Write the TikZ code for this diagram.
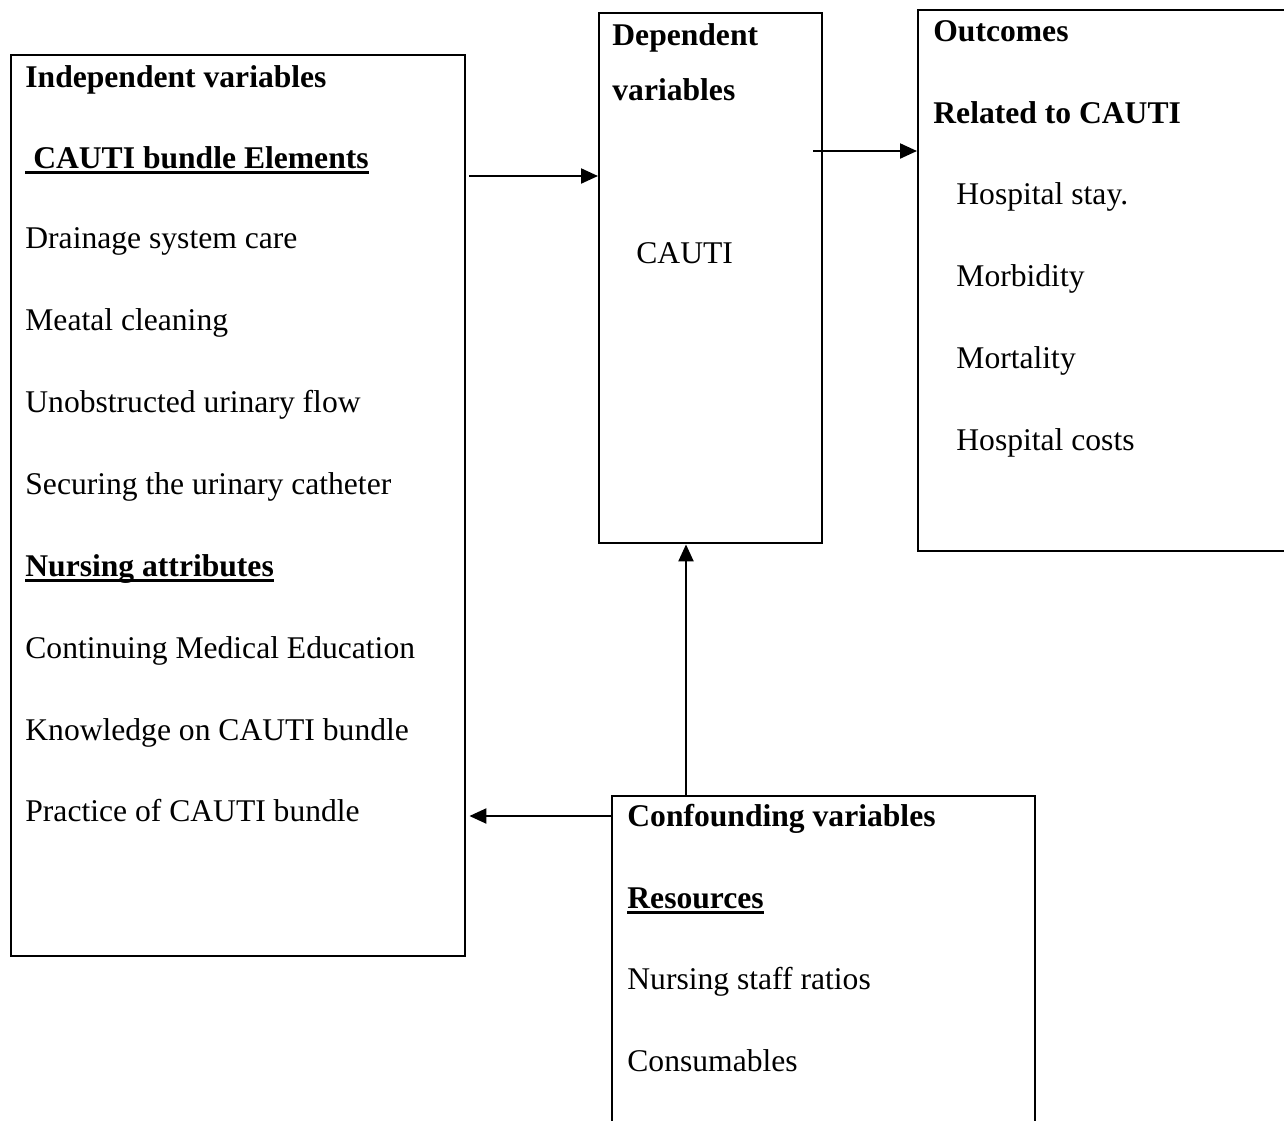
\documentclass[tikz,border=0pt]{standalone}
\usepackage{fontspec}
\setmainfont{Liberation Serif}
\usetikzlibrary{arrows.meta}
\newcommand\ulin[1]{\setbox0\hbox{#1}\rlap{\rule[-3.2pt]{\wd0}{1.5pt}}\box0}
\begin{document}
\begin{tikzpicture}[x=0.5pt,y=-0.5pt,
 box/.style={draw,line width=1.2pt,anchor=north west,inner sep=0},
 txt/.style={anchor=base west,inner sep=0,font=\fontsize{15.8}{19}\selectfont},
 arr/.style={line width=1.1pt,-{Triangle[length=8.5pt,width=7.5pt]}}]
\clip (0,0) rectangle (1284,1120);
\fill[white] (0,0) rectangle (1284,1120);
% boxes
\node[box,minimum width=227pt,minimum height=450.5pt] (indep) at (10,54) {};
\node[box,minimum width=111.5pt,minimum height=265pt] (dep) at (598,12) {};
\node[box,minimum width=191.5pt,minimum height=270.5pt] (out) at (917,9) {};
\node[box,minimum width=211.5pt,minimum height=172.5pt] (conf) at (611,795) {};
% independent texts
\node[txt] (i1) at (25,87) {\textbf{Independent variables}};
\node[txt] (i2) at (25,168) {\textbf{\ulin{\ CAUTI bundle Elements}}};
\node[txt] (i3) at (25,248) {Drainage system care};
\node[txt] (i4) at (25,330) {Meatal cleaning};
\node[txt] (i5) at (25,412) {Unobstructed urinary flow};
\node[txt] (i6) at (25,494) {Securing the urinary catheter};
\node[txt] (i7) at (25,576) {\textbf{\ulin{Nursing attributes}}};
\node[txt] (i8) at (25,658) {Continuing Medical Education};
\node[txt] (i9) at (25,740) {Knowledge on CAUTI bundle};
\node[txt] (i10) at (25,821) {Practice of CAUTI bundle};
% dependent texts
\node[txt] (d1) at (612,45) {\textbf{Dependent}};
\node[txt] (d2) at (612,100) {\textbf{variables}};
\node[txt] (d3) at (636,263) {CAUTI};
% outcomes texts
\node[txt] (o1) at (933,41) {\textbf{Outcomes}};
\node[txt] (o2) at (933,123) {\textbf{Related to CAUTI}};
\node[txt] (o3) at (956,204) {Hospital stay.};
\node[txt] (o4) at (956,286) {Morbidity};
\node[txt] (o5) at (956,368) {Mortality};
\node[txt] (o6) at (956,450) {Hospital costs};
% confounding texts
\node[txt] (c1) at (627,826) {\textbf{Confounding variables}};
\node[txt] (c2) at (627,908) {\textbf{\ulin{Resources}}};
\node[txt] (c3) at (627,989) {Nursing staff ratios};
\node[txt] (c4) at (627,1071) {Consumables};
% connectors
\coordinate (a2s) at (813,151);
\draw[arr,shorten <=1.5pt] (indep.east |- 0,176) -- (dep.west |- 0,176);
\draw[arr] (a2s) -- (out.west |- a2s);
\draw[arr] (conf.north -| 686,0) -- (dep.south -| 686,0);
\draw[arr,shorten >=1.5pt] (conf.west |- 0,816) -- (indep.east |- 0,816);
\end{tikzpicture}
\end{document}
